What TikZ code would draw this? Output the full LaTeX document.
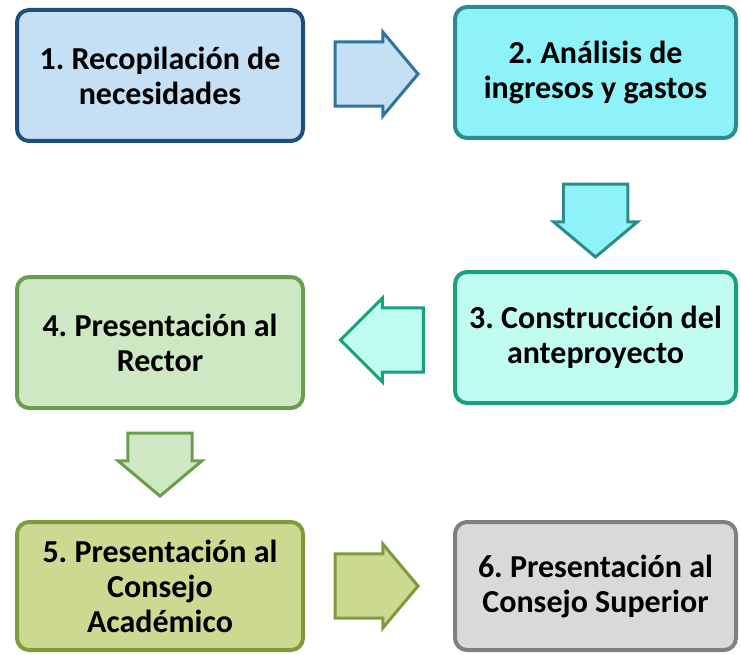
\documentclass[tikz,border=0pt]{standalone}
\usepackage{fontspec}
\setmainfont{Carlito}
\usepackage{tikz}
\usetikzlibrary{shapes.arrows}
\usetikzlibrary{calc}
\frenchspacing

\definecolor{bluefill}{HTML}{C5E0F5}
\definecolor{blueline}{HTML}{1F4E79}
\definecolor{bluearrow}{HTML}{31749B}
\definecolor{cyanfill}{HTML}{8DF3F9}
\definecolor{cyanline}{HTML}{2E8B8B}
\definecolor{mintfill}{HTML}{C0FDF0}
\definecolor{mintline}{HTML}{18A080}
\definecolor{leaffill}{HTML}{CDE8C2}
\definecolor{leafline}{HTML}{6A9E4F}
\definecolor{olivefill}{HTML}{CCD991}
\definecolor{oliveline}{HTML}{7F9A3C}
\definecolor{greyfill}{HTML}{D9D9D9}
\definecolor{greyline}{HTML}{808080}

\begin{document}
\begin{tikzpicture}[
   x=1pt, y=1pt,
   box/.style={
      draw,
      rounded corners=12pt,
      line width=4pt,
      align=center,
      inner sep=0pt,
      font=\fontsize{32}{35}\selectfont\bfseries
   },
   blockarrow/.style={
      draw,
      single arrow,
      single arrow tip angle=100,
      line width=3pt,
      inner xsep=0pt,
      inner ysep=22pt,
      minimum width=84pt
   }
]
   \useasboundingbox (0,0) rectangle (741,-655);

   % the six steps
   \node[box, fill=bluefill, draw=blueline,
      minimum width=286pt, minimum height=131pt]
      (recopilacion) at (160,-75.5) {1. Recopilación de\\necesidades};
   \node[box, fill=cyanfill, draw=cyanline,
      minimum width=281pt, minimum height=131pt]
      (analisis) at (595.5,-72.5) {2. Análisis de\\ingresos y gastos};
   \node[box, fill=mintfill, draw=mintline,
      minimum width=281pt, minimum height=131pt]
      (construccion) at (595.5,-337.5) {3. Construcción del\\anteproyecto};
   \node[box, fill=leaffill, draw=leafline,
      minimum width=286pt, minimum height=131pt]
      (rector) at (160,-342.5) {4. Presentación al\\Rector};
   \node[box, fill=olivefill, draw=oliveline,
      minimum width=286pt, minimum height=128pt]
      (academico) at (160,-586) {5. Presentación al\\Consejo\\Académico};
   \node[box, fill=greyfill, draw=greyline,
      minimum width=281pt, minimum height=128pt]
      (superior) at (595.5,-586) {6. Presentación al\\Consejo Superior};

   % block arrows between the steps
   \node[blockarrow, fill=bluefill, draw=bluearrow, minimum height=83pt]
      (arrowA) at ($(recopilacion.east)!0.5!(analisis.west)+(-16,0)$) {};
   \node[blockarrow, fill=cyanfill, draw=cyanline, minimum height=73pt, rotate=-90]
      (arrowB) at ($(analisis.south)!0.6!(construccion.north)+(0,11)$) {};
   \node[blockarrow, fill=mintfill, draw=mintline, minimum height=83pt,
      single arrow tip angle=90, rotate=180]
      (arrowC) at ($(construccion.west)!0.5!(rector.east)+(19,0)$) {};
   \node[blockarrow, fill=leaffill, draw=leafline, minimum height=63pt, rotate=-90]
      (arrowD) at ($(rector.south)!0.5!(academico.north)+(0,14)$) {};
   \node[blockarrow, fill=olivefill, draw=oliveline, minimum height=83pt]
      (arrowE) at ($(academico.east)!0.5!(superior.west)+(-16,0)$) {};
\end{tikzpicture}
\end{document}
